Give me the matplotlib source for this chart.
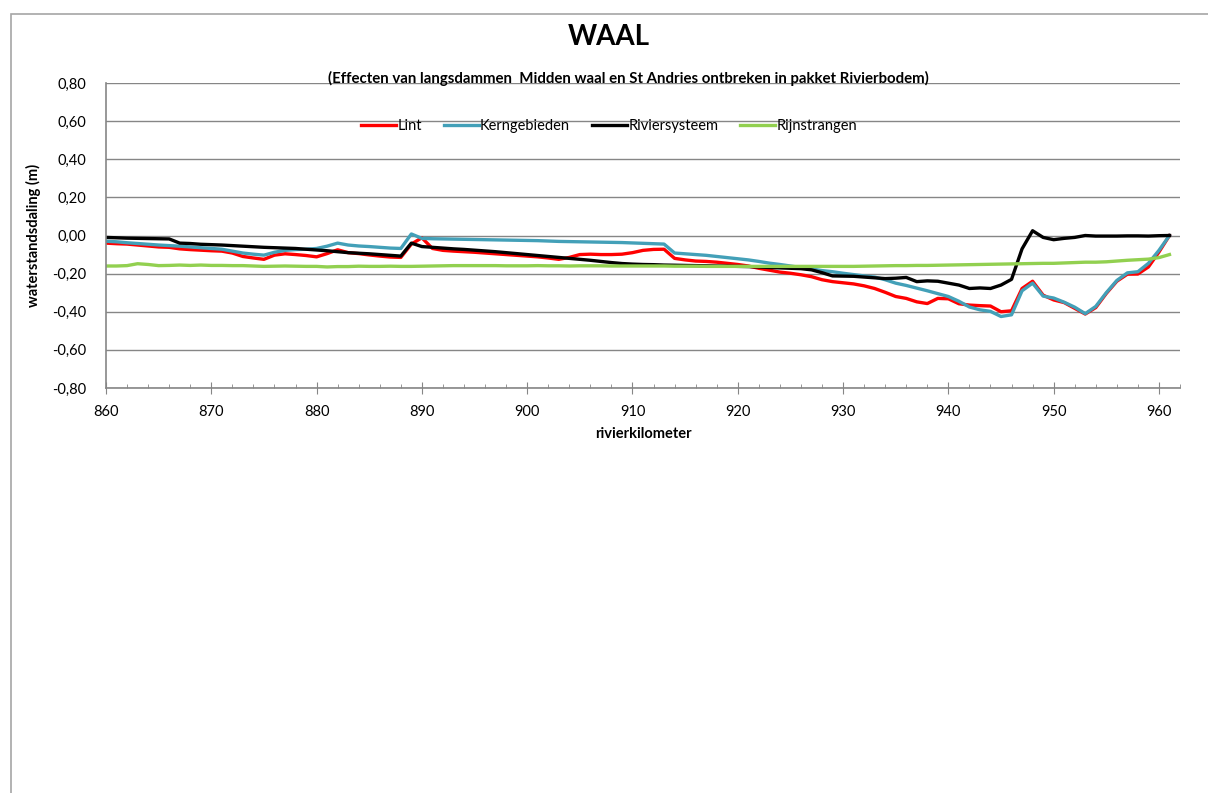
#!/usr/bin/env python3
"""
Waterstandsdaling langs de Waal per rivierkilometer voor vier pakketten.
"""

import matplotlib
matplotlib.use("Agg")
import matplotlib.pyplot as plt
import numpy as np
from matplotlib.patches import Rectangle
from matplotlib.ticker import FuncFormatter, MultipleLocator

km = list(range(860, 962))

lint = [
    -0.040, -0.043, -0.045, -0.050, -0.055, -0.060, -0.062, -0.070, -0.074, -0.077,
    -0.080, -0.082, -0.092, -0.110, -0.118, -0.125, -0.103, -0.096, -0.100, -0.105,
    -0.112, -0.095, -0.075, -0.090, -0.095, -0.102, -0.108, -0.113, -0.115, -0.045,
    -0.012, -0.068, -0.078, -0.082, -0.085, -0.088, -0.092, -0.096, -0.100, -0.104,
    -0.108, -0.112, -0.118, -0.125, -0.115, -0.100, -0.098, -0.100, -0.100, -0.098,
    -0.090, -0.078, -0.073, -0.072, -0.120, -0.128, -0.134, -0.136, -0.140, -0.146,
    -0.152, -0.160, -0.172, -0.182, -0.192, -0.198, -0.206, -0.216, -0.232, -0.242,
    -0.248, -0.254, -0.264, -0.278, -0.298, -0.320, -0.330, -0.348, -0.357, -0.330,
    -0.332, -0.358, -0.365, -0.368, -0.370, -0.400, -0.395, -0.278, -0.240, -0.313,
    -0.338, -0.352, -0.382, -0.412, -0.378, -0.304, -0.240, -0.203, -0.202, -0.165,
    -0.087, 0.000,
]

kerngebieden = [
    -0.030, -0.033, -0.038, -0.042, -0.046, -0.050, -0.053, -0.056, -0.060, -0.064,
    -0.068, -0.072, -0.082, -0.092, -0.098, -0.103, -0.088, -0.078, -0.074, -0.072,
    -0.068, -0.056, -0.040, -0.050, -0.055, -0.058, -0.062, -0.066, -0.068, 0.008,
    -0.015, -0.017, -0.018, -0.019, -0.020, -0.021, -0.022, -0.023, -0.024, -0.025,
    -0.026, -0.027, -0.029, -0.031, -0.032, -0.033, -0.034, -0.035, -0.036, -0.037,
    -0.039, -0.041, -0.043, -0.045, -0.092, -0.096, -0.100, -0.104, -0.110, -0.116,
    -0.122, -0.128, -0.136, -0.145, -0.152, -0.160, -0.168, -0.176, -0.184, -0.190,
    -0.198, -0.205, -0.212, -0.218, -0.232, -0.250, -0.262, -0.276, -0.290, -0.305,
    -0.320, -0.345, -0.375, -0.390, -0.398, -0.425, -0.416, -0.290, -0.250, -0.318,
    -0.328, -0.350, -0.376, -0.410, -0.372, -0.300, -0.236, -0.196, -0.190, -0.146,
    -0.078, 0.000,
]

riviersysteem = [
    -0.010, -0.012, -0.014, -0.015, -0.016, -0.017, -0.018, -0.040, -0.042, -0.046,
    -0.048, -0.050, -0.053, -0.056, -0.059, -0.062, -0.064, -0.066, -0.068, -0.072,
    -0.076, -0.080, -0.085, -0.090, -0.093, -0.096, -0.100, -0.104, -0.108, -0.040,
    -0.058, -0.062, -0.066, -0.070, -0.073, -0.077, -0.081, -0.085, -0.090, -0.095,
    -0.100, -0.105, -0.110, -0.115, -0.120, -0.125, -0.130, -0.136, -0.142, -0.147,
    -0.150, -0.152, -0.153, -0.155, -0.156, -0.157, -0.158, -0.159, -0.160, -0.161,
    -0.162, -0.163, -0.165, -0.168, -0.170, -0.172, -0.174, -0.180, -0.195, -0.212,
    -0.213, -0.214, -0.218, -0.222, -0.226, -0.224, -0.220, -0.242, -0.238, -0.240,
    -0.250, -0.260, -0.278, -0.275, -0.278, -0.260, -0.230, -0.070, 0.025, -0.010,
    -0.022, -0.015, -0.010, 0.000, -0.003, -0.003, -0.003, -0.002, -0.002, -0.003,
    -0.001, 0.000,
]

rijnstrangen = [
    -0.160, -0.160, -0.158, -0.148, -0.152, -0.158, -0.157, -0.155, -0.157, -0.155,
    -0.157, -0.157, -0.158, -0.158, -0.160, -0.162, -0.161, -0.160, -0.161, -0.162,
    -0.162, -0.165, -0.163, -0.163, -0.161, -0.162, -0.162, -0.161, -0.162, -0.162,
    -0.161, -0.160, -0.159, -0.158, -0.158, -0.158, -0.158, -0.158, -0.159, -0.159,
    -0.159, -0.158, -0.159, -0.159, -0.160, -0.159, -0.159, -0.159, -0.160, -0.160,
    -0.160, -0.160, -0.160, -0.160, -0.161, -0.161, -0.161, -0.162, -0.162, -0.162,
    -0.162, -0.162, -0.162, -0.162, -0.162, -0.162, -0.162, -0.162, -0.162, -0.162,
    -0.162, -0.162, -0.161, -0.160, -0.159, -0.158, -0.158, -0.157, -0.157, -0.156,
    -0.155, -0.154, -0.153, -0.152, -0.151, -0.150, -0.149, -0.148, -0.147, -0.146,
    -0.146, -0.144, -0.142, -0.140, -0.140, -0.138, -0.134, -0.130, -0.127, -0.124,
    -0.116, -0.100,
]

series = [
    ("Lint", lint, "#FF0000"),
    ("Kerngebieden", kerngebieden, "#43A0B8"),
    ("Riviersysteem", riviersysteem, "#000000"),
    ("Rijnstrangen", rijnstrangen, "#92D050"),
]

plt.rcParams["font.family"] = ["Lato", "DejaVu Sans"]

W, H = 1208, 793
fig = plt.figure(figsize=(W / 100, H / 100), dpi=100)

# chart frame (runs past the right and bottom edge in the original)
fig.patches.append(Rectangle((11 / W, -0.1), 1.1, 1 - 14 / H + 0.1,
                             transform=fig.transFigure, fill=False,
                             edgecolor="#A6A6A6", linewidth=1.2))

ax = fig.add_axes([106 / W, 1 - 388 / H, (1180 - 106) / W, (388 - 83) / H])

for name, vals, color in series:
    ax.plot(km, vals, color=color, linewidth=2.4, label=name,
            solid_joinstyle="round")

ax.set_xlim(860, 962)
ax.set_ylim(-0.8, 0.8)
ax.xaxis.set_major_locator(MultipleLocator(10))
ax.xaxis.set_minor_locator(MultipleLocator(2))
ax.yaxis.set_major_locator(MultipleLocator(0.2))
ax.yaxis.set_major_formatter(
    FuncFormatter(lambda v, _: f"{v:.2f}".replace(".", ",").replace("-0,00", "0,00")))

ax.grid(axis="y", color="#868686", linewidth=1)
ax.set_axisbelow(True)
for s in ("top", "right"):
    ax.spines[s].set_visible(False)
for s in ("left", "bottom"):
    ax.spines[s].set_color("#868686")
    ax.spines[s].set_linewidth(1.2)

ax.tick_params(axis="y", length=0, pad=14, labelsize=10.5)
ax.tick_params(axis="x", which="major", direction="inout", length=8,
               color="#868686", pad=8, labelsize=10.5)
ax.tick_params(axis="x", which="minor", direction="in", length=3,
               color="#868686")

ax.set_xlabel("rivierkilometer", fontsize=10.5, fontweight="bold", labelpad=6)
ax.set_ylabel("waterstandsdaling (m)", fontsize=10.5, fontweight="bold",
              labelpad=8)

fig.text(609 / W, 1 - 37 / H, "WAAL", ha="center", va="center",
         fontsize=20, fontweight="bold")
fig.text(628 / W, 1 - 78 / H,
         "(Effecten van langsdammen  Midden waal en St Andries ontbreken in pakket Rivierbodem)",
         ha="center", va="center", fontsize=10.8, fontweight="bold")

fig.legend(loc="center", bbox_to_anchor=(609 / W, 1 - 126 / H), ncol=4,
           frameon=False, fontsize=10.5, handlelength=2.4, handletextpad=0.1,
           columnspacing=1.5)

fig.savefig("out.png", dpi=100)
